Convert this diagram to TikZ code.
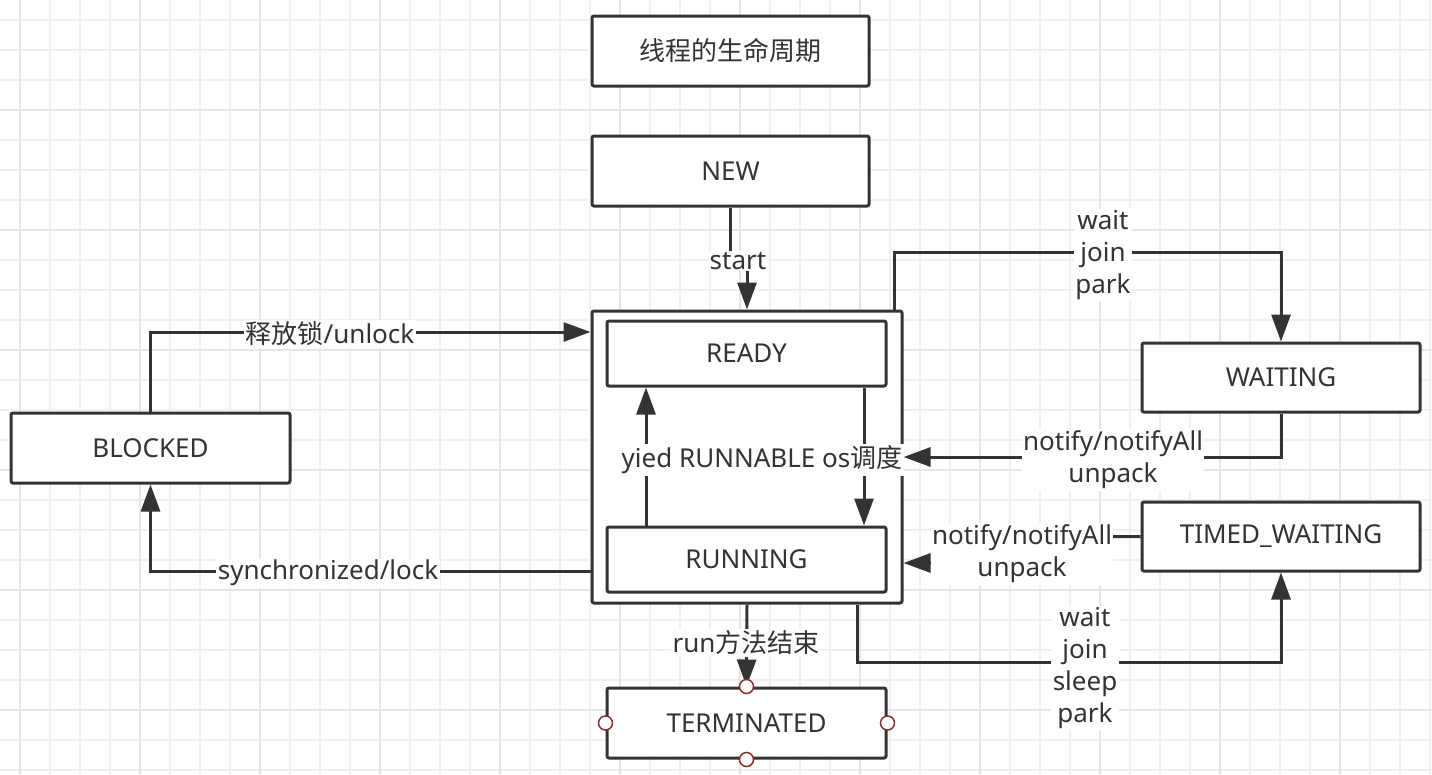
\documentclass[tikz,border=0pt]{standalone}
\usepackage{fontspec}
\setmainfont{Noto Sans}
\newfontfamily\cjk{Noto Sans CJK SC}
\usetikzlibrary{arrows.meta}
\definecolor{ink}{HTML}{333333}
\definecolor{gridminor}{HTML}{F0F0F0}
\definecolor{gridmajor}{HTML}{E6E6E6}
\definecolor{portred}{HTML}{8A2E2E}
\tikzset{
  statebox/.style={draw=ink, line width=3pt, rounded corners=2pt, fill=white,
    text=ink, inner sep=0pt, font=\fontsize{26}{32}\selectfont},
  conn/.style={draw=ink, line width=3pt, -{Triangle[length=27pt,width=19pt]}},
  lbl/.style={fill=white, text=ink, inner sep=1.5pt, align=center, yshift=-2pt,
    font=\fontsize{26}{32}\selectfont},
  port/.style={draw=portred, line width=1.5pt, fill=white},
}
\begin{document}
\begin{tikzpicture}[x=1pt, y=-1pt]
\useasboundingbox (0,0) rectangle (1432,774);
\fill[white] (0,0) rectangle (1432,774);
% grid
\foreach \x in {20,50,...,1430} \draw[gridminor, line width=1.5pt] (\x,0) -- (\x,774);
\foreach \y in {20,50,...,770} \draw[gridminor, line width=1.5pt] (0,\y) -- (1432,\y);
\foreach \x in {20,140,...,1430} \draw[gridmajor, line width=1.5pt] (\x,0) -- (\x,774);
\foreach \y in {110,230,...,770} \draw[gridmajor, line width=1.5pt] (0,\y) -- (1432,\y);

% boxes
\node[statebox, minimum width=277pt, minimum height=70pt] (title) at (730.5,51) {\cjk 线程的生命周期};
\node[statebox, minimum width=277pt, minimum height=70pt] (new) at (730.5,171) {\raisebox{-1pt}{NEW}};
\node[draw=ink, line width=3pt, rounded corners=2pt, fill=white, inner sep=0pt,
      minimum width=310pt, minimum height=292pt] (outer) at (747,457) {};
\node[statebox, minimum width=279pt, minimum height=65pt] (ready) at (746.5,353.5) {\raisebox{-1pt}{READY}};
\node[statebox, minimum width=279pt, minimum height=65pt] (running) at (746.5,559.5) {\raisebox{-1pt}{RUNNING}};
\node[statebox, minimum width=279pt, minimum height=70pt] (blocked) at (150.5,448) {\raisebox{-1pt}{BLOCKED}};
\node[statebox, minimum width=278pt, minimum height=69pt] (waiting) at (1281,377.5) {\raisebox{-1pt}{WAITING}};
\node[statebox, minimum width=278pt, minimum height=69pt] (timed) at (1281,536.5) {\raisebox{-1pt}{TIMED\_WAITING}};
\node[statebox, minimum width=279pt, minimum height=70pt] (term) at (746.5,723) {\raisebox{-1pt}{TERMINATED}};

% helper coordinates
\coordinate (k1) at (738,259);
\coordinate (k2) at (1103,252);
\coordinate (k3) at (1113,457);
\coordinate (k4a) at (1022,537);
\coordinate (k4b) at (1022,563);
\coordinate (k5) at (1085,662);
\coordinate (k7) at (328,571);
\coordinate (k8) at (330,332);

% connectors
\draw[conn] (new.south) |- (k1) -| (outer.north);
\draw[conn] ([xshift=-9pt]outer.north east) |- (k2) -| (waiting.north);
\draw[conn] (waiting.south) |- (outer.east |- k3);
\draw[conn] (timed.west) -- (k4a) -- (k4b) -- (outer.east |- k4b);
\draw[conn] ([xshift=110pt]outer.south) |- (k5) -| (timed.south);
\draw[conn] (outer.south) -- (term.north);
\draw[conn] (outer.west |- k7) -| (blocked.south);
\draw[conn] (blocked.north) |- (outer.west |- k8);
\draw[conn] ([xshift=-100.5pt]running.north) -- ([xshift=-100.5pt]ready.south);
\draw[conn] ([xshift=117.5pt]ready.south) -- ([xshift=117.5pt]running.north);

% labels
\node[lbl] (lstart) at (k1) {start};
\node[lbl] (lwait) at (1103,253) {wait\\join\\park};
\node[lbl] (lnotify1) at (1113,458) {notify/notifyAll\\unpack};
\node[lbl] (lnotify2) at (1022,552) {notify/notifyAll\\unpack};
\node[lbl] (lwait2) at (1085,666) {wait\\join\\sleep\\park};
\node[lbl] (lrun) at (746,641) {run{\cjk 方法结束}};
\node[lbl] (lsync) at (k7) {synchronized/lock};
\node[lbl] (lunlock) at (k8) {{\cjk 释放锁}/unlock};
\node[lbl] (lyield) at (762,458) {yied RUNNABLE os{\cjk 调度}};

% ports on TERMINATED
\foreach \a in {north,south,east,west} \draw[port] (term.\a) circle (7pt);
\end{tikzpicture}
\end{document}
